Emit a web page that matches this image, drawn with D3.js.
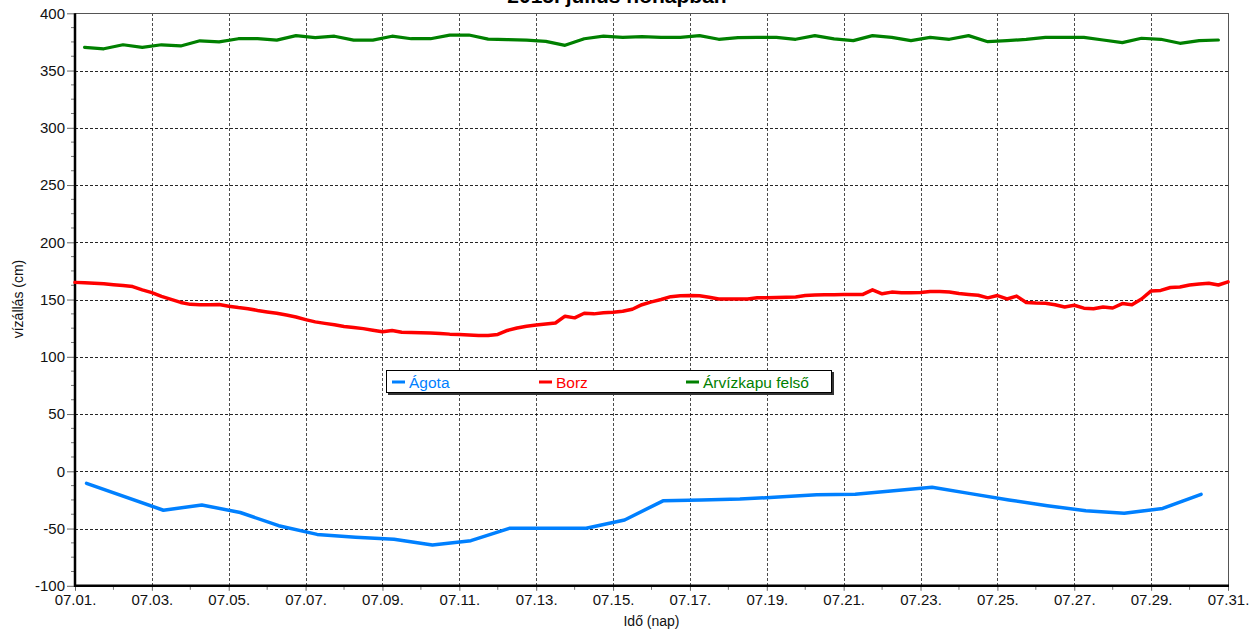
<!DOCTYPE html>
<html>
<head>
<meta charset="utf-8">
<script src="https://cdn.jsdelivr.net/npm/d3@7"></script>
<style>
  html, body { margin: 0; padding: 0; background: #fff; }
  svg { display: block; font-family: "Liberation Sans", Arial, sans-serif; }
</style>
</head>
<body>
<svg id="chart" width="1252" height="632"></svg>
<script>
// ---- data -------------------------------------------------------------
// time is measured in days from 07.01. 00:00
const xTickDays = [0, 2, 4, 6, 8, 10, 12, 14, 16, 18, 20, 22, 24, 26, 28, 30];
const xTickLabels = ["07.01.", "07.03.", "07.05.", "07.07.", "07.09.", "07.11.", "07.13.", "07.15.",
                     "07.17.", "07.19.", "07.21.", "07.23.", "07.25.", "07.27.", "07.29.", "07.31."];
const yTicks = [-100, -50, 0, 50, 100, 150, 200, 250, 300, 350, 400];

// Ágota – daily readings
const agotaDays = [0.3, 2.3, 3.3, 4.3, 5.3, 6.3, 7.3, 8.3, 9.3, 10.3, 11.3, 12.3, 13.3, 14.3, 15.3,
                   16.3, 17.3, 18.3, 19.3, 20.3, 21.3, 22.3, 23.3, 24.3, 25.3, 26.3, 27.3, 28.3, 29.3];
const agotaValues = [-10.5, -34, -29.4, -36, -47.5, -55.1, -57.5, -59.4, -64.4, -60.6, -49.8, -49.8, -49.8, -42.5, -25.8,
                     -25, -24.2, -22.5, -20.5, -20.1, -17, -14, -19.5, -25, -30, -34.5, -36.7, -32.4, -20.1];

// Borz – readings every 6 hours starting 07.01. 00:00
const borzStart = 0;
const borzStep = 0.25;
const borzValues = [
  165, 164.6, 164.3, 163.8, 163, 162.3, 161.3, 158.5, 156, 152.8, 150.2, 147.5,
  145.8, 145.5, 145.5, 145.6, 144.2, 143, 142, 140.5, 139.2, 138, 136.5, 134.8,
  132.5, 130.5, 129.2, 128, 126.5, 125.6, 124.6, 123.2, 121.8, 123, 121.5, 121.3,
  121, 120.8, 120.4, 119.8, 119.4, 119, 118.7, 118.6, 119.5, 123, 125.2, 126.7,
  127.8, 128.6, 129.5, 135.5, 134, 138, 137.5, 138.5, 139, 139.8, 141.5, 145.5,
  148, 150, 152.5, 153.4, 153.5, 153.3, 152, 150.5, 150.5, 150.4, 150.5, 151.5,
  151.6, 151.8, 152, 152.3, 153.5, 154, 154.2, 154.3, 154.5, 154.5, 154.5, 158.5,
  155, 156.5, 156, 156, 156.2, 157, 157, 156.6, 155.2, 154.5, 153.8, 151.5,
  153.5, 150.5, 153, 147.5, 147, 146.7, 145.5, 143.5, 145, 142.5, 142, 143.5,
  142.6, 146.5, 145.5, 150.5, 157.5, 158, 160.5, 161, 162.7, 163.5, 164.3, 162.7,
  165.5
];

// Árvízkapu felső – readings at 06:00 and 18:00
const arvizStart = 0.25;
const arvizStep = 0.5;
const arvizValues = [
  370.3, 369, 372.5, 370.3, 372.5, 371.5, 376, 375, 377.8, 377.8,
  376.6, 380.5, 378.8, 380, 376.6, 376.6, 380, 377.8, 377.8, 381,
  381, 377.5, 377, 376.5, 375.5, 372, 377.8, 380, 379, 379.6,
  379, 379, 380.5, 377.3, 378.8, 379, 379, 377.3, 380.5, 377.6,
  376.1, 380.5, 379, 376.1, 379, 377.3, 380.5, 375.2, 376.1, 377.3,
  379, 379, 379, 376.7, 374.4, 378.2, 377.3, 373.8, 376.1, 376.7
];

const seriesNames = ["Ágota", "Borz", "Árvízkapu felső"];
const seriesColors = ["#0080ff", "#ff0000", "#008000"];
const titleText = "2015. július hónapban";
const xLabel = "Idő (nap)";
const yLabel = "vízállás (cm)";

// ---- layout -----------------------------------------------------------
const svg = d3.select("#chart");
const plotLeft = 75, plotRight = 1228, plotTop = 13.3, plotBottom = 585.8;

const x = d3.scaleLinear().domain([0, 30]).range([plotLeft, plotRight]);
const y = d3.scaleLinear().domain([-100, 400]).range([plotBottom, plotTop]);

// grid
const grid = svg.append("g").attr("class", "grid")
  .attr("stroke", "#000").attr("stroke-width", 1).attr("stroke-dasharray", "3,2")
  .attr("shape-rendering", "crispEdges");
grid.selectAll("line.h").data(yTicks.filter(v => v > -100 && v < 400)).join("line")
  .attr("class", "h")
  .attr("x1", plotLeft).attr("x2", plotRight)
  .attr("y1", d => Math.round(y(d)) + 0.5).attr("y2", d => Math.round(y(d)) + 0.5)
  .attr("stroke-opacity", 0.85);
grid.selectAll("line.v").data(xTickDays.filter(d => d > 0 && d < 30)).join("line")
  .attr("class", "v")
  .attr("x1", d => Math.round(x(d)) + 0.5).attr("x2", d => Math.round(x(d)) + 0.5)
  .attr("y1", plotTop).attr("y2", plotBottom)
  .attr("stroke-opacity", 0.7);

// frame: thin top/right border
svg.append("line").attr("x1", plotLeft).attr("x2", plotRight).attr("y1", 13.5).attr("y2", 13.5)
  .attr("stroke", "#555").attr("stroke-width", 1).attr("shape-rendering", "crispEdges");
svg.append("line").attr("x1", plotRight + 0.5).attr("x2", plotRight + 0.5).attr("y1", plotTop).attr("y2", plotBottom)
  .attr("stroke", "#555").attr("stroke-width", 1).attr("shape-rendering", "crispEdges");

// y axis
const yMinor = d3.range(-100, 400.01, 12.5).filter(v => !yTicks.includes(v));
const yAxis = svg.append("g").attr("transform", `translate(${plotLeft},0)`)
  .call(d3.axisLeft(y).tickValues(yTicks).tickFormat(d => String(d)).tickSize(8).tickPadding(2));
yAxis.select(".domain").remove();
yAxis.selectAll(".tick line").attr("stroke", "#666");
yAxis.selectAll(".tick text").attr("font-size", 15).attr("fill", "#111")
  .attr("font-family", "Liberation Sans, Arial, sans-serif");
svg.append("g").selectAll("line").data(yMinor).join("line")
  .attr("x1", plotLeft - 4).attr("x2", plotLeft)
  .attr("y1", d => y(d)).attr("y2", d => y(d))
  .attr("stroke", "#777");

// x axis
const xMinor = d3.range(1, 30, 2);
const xAxis = svg.append("g").attr("transform", `translate(0,${plotBottom})`)
  .call(d3.axisBottom(x).tickValues(xTickDays).tickFormat((d, i) => xTickLabels[i]).tickSize(5).tickPadding(4));
xAxis.select(".domain").remove();
xAxis.selectAll(".tick line").attr("stroke", "#666");
xAxis.selectAll(".tick text").attr("font-size", 15).attr("fill", "#111")
  .attr("font-family", "Liberation Sans, Arial, sans-serif");
svg.append("g").selectAll("line").data(xMinor).join("line")
  .attr("x1", d => x(d)).attr("x2", d => x(d))
  .attr("y1", plotBottom).attr("y2", plotBottom + 4)
  .attr("stroke", "#777");

// thick axis lines
svg.append("line").attr("x1", plotLeft).attr("x2", plotLeft).attr("y1", plotTop).attr("y2", plotBottom + 1)
  .attr("stroke", "#000").attr("stroke-width", 2.5);
svg.append("line").attr("x1", plotLeft - 1).attr("x2", plotRight + 1).attr("y1", plotBottom).attr("y2", plotBottom)
  .attr("stroke", "#000").attr("stroke-width", 2.5);

// ---- series -----------------------------------------------------------
const line = d3.line().x(d => x(d[0])).y(d => y(d[1]));
const agota = agotaDays.map((d, i) => [d, agotaValues[i]]);
const borz = borzValues.map((v, i) => [borzStart + i * borzStep, v]);
const arviz = arvizValues.map((v, i) => [arvizStart + i * arvizStep, v]);

const plot = svg.append("g").attr("fill", "none")
  .attr("stroke-linejoin", "round").attr("stroke-linecap", "round");
plot.append("path").datum(arviz).attr("d", line).attr("stroke", seriesColors[2]).attr("stroke-width", 3.2);
plot.append("path").datum(borz).attr("d", line).attr("stroke", seriesColors[1]).attr("stroke-width", 3.5);
plot.append("path").datum(agota).attr("d", line).attr("stroke", seriesColors[0]).attr("stroke-width", 3.5);

// ---- legend -----------------------------------------------------------
const lg = svg.append("g").attr("transform", "translate(386,370)");
lg.append("rect").attr("x", 2).attr("y", 2).attr("width", 446).attr("height", 23).attr("fill", "#333");
lg.append("rect").attr("x", 0.5).attr("y", 0.5).attr("width", 445).attr("height", 22)
  .attr("fill", "#fff").attr("stroke", "#000").attr("stroke-width", 1);
const legendX = [6, 153, 300];
seriesNames.forEach((name, i) => {
  const g = lg.append("g").attr("transform", `translate(${legendX[i]},12)`);
  g.append("line").attr("x1", 0).attr("x2", 13).attr("y1", 0).attr("y2", 0)
    .attr("stroke", seriesColors[i]).attr("stroke-width", 3);
  g.append("text").attr("x", 17).attr("y", 5.5).attr("font-size", 15.5)
    .attr("fill", seriesColors[i]).text(name);
});

// ---- titles -----------------------------------------------------------
svg.append("text").attr("x", 617).attr("y", 3).attr("text-anchor", "middle")
  .attr("font-size", 21).attr("font-weight", "bold").attr("fill", "#000").text(titleText);
svg.append("text").attr("x", (plotLeft + plotRight) / 2).attr("y", 626).attr("text-anchor", "middle")
  .attr("font-size", 14).attr("fill", "#111").text(xLabel);
svg.append("text").attr("transform", "translate(23,299) rotate(-90)").attr("text-anchor", "middle")
  .attr("font-size", 14).attr("fill", "#111").text(yLabel);
</script>
</body>
</html>
